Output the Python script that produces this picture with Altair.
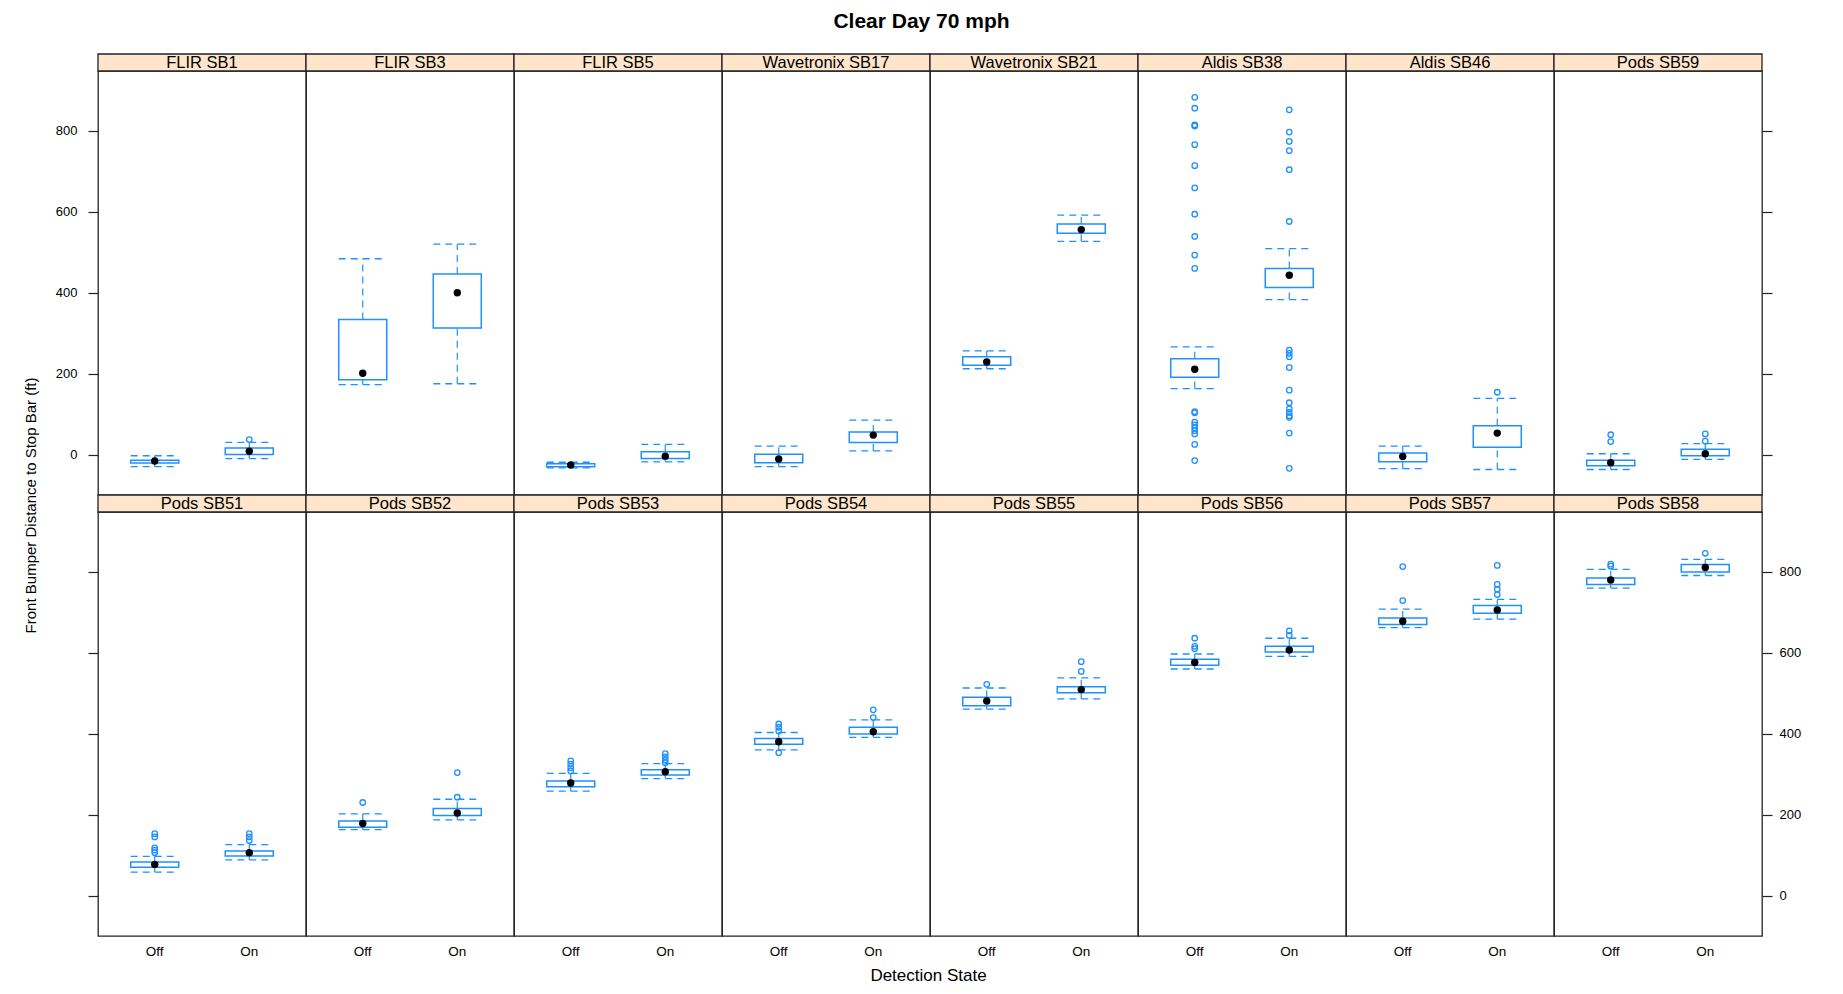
import altair as alt
import pandas as pd

title_text = "Clear Day 70 mph"
x_title = "Detection State"
y_title = "Front Bumper Distance to Stop Bar (ft)"

panels = ["FLIR SB1", "FLIR SB3", "FLIR SB5", "Wavetronix SB17", "Wavetronix SB21",
          "Aldis SB38", "Aldis SB46", "Pods SB59",
          "Pods SB51", "Pods SB52", "Pods SB53", "Pods SB54", "Pods SB55",
          "Pods SB56", "Pods SB57", "Pods SB58"]
states = ["Off", "On"]
y_ticks = [0, 200, 400, 600, 800]

# each entry: [Off, On]
lower_whisker = [[-30, -10], [173, 175], [-33, -18], [-30, 9], [212, 527], [163, 383], [-35, -37], [-37, -12],
                 [58, 88], [163, 187], [258, 289], [360, 391], [461, 486], [560, 591], [662, 683], [760, 791]]
q1 = [[-21, 0], [185, 313], [-30, -10], [-20, 30], [221, 547], [191, 413], [-18, 18], [-28, -3],
      [70, 98], [169, 198], [269, 298], [374, 399], [469, 501], [569, 602], [670, 698], [769, 800]]
median = [[-16, 8], [201, 400], [-26, -4], [-11, 48], [229, 556], [211, 443], [-5, 53], [-20, 2],
          [77, 106], [178, 204], [278, 306], [380, 405], [481, 509], [576, 607], [678, 706], [780, 811]]
q3 = [[-14, 16], [334, 446], [-23, 7], [1, 56], [242, 570], [237, 460], [4, 71], [-14, 13],
      [83, 110], [184, 215], [283, 311], [388, 416], [490, 516], [584, 616], [686, 717], [785, 818]]
upper_whisker = [[-3, 30], [484, 520], [-19, 25], [21, 85], [256, 592], [266, 509], [21, 139], [2, 27],
                 [97, 126], [202, 238], [302, 326], [403, 434], [513, 538], [597, 636], [708, 732], [806, 831]]
outliers = [
    [[], [37]],
    [[], []],
    [[], []],
    [[], []],
    [[], []],
    [[883, 856, 815, 812, 766, 714, 659, 594, 539, 493, 460, 106, 103, 80, 73, 66, 59, 51, 25, -15],
     [852, 797, 774, 751, 704, 576, 258, 250, 242, 215, 159, 128, 113, 104, 96, 92, 53, -34]],
    [[], [154]],
    [[49, 32], [51, 33]],
    [[153, 145, 118, 112, 106], [153, 145, 136]],
    [[230], [304, 243]],
    [[333, 325, 316, 308], [351, 343, 335, 328]],
    [[424, 416, 407, 353], [459, 440]],
    [[522], [578, 554]],
    [[636, 616, 610], [654, 643]],
    [[813, 729], [816, 769, 757, 744]],
    [[819, 814], [846]],
]

stat_rows = []
out_rows = []
for i, p in enumerate(panels):
    for j, s in enumerate(states):
        stat_rows.append(dict(panel=p, state=s, lo=lower_whisker[i][j], q1=q1[i][j],
                              med=median[i][j], q3=q3[i][j], hi=upper_whisker[i][j]))
        for v in outliers[i][j]:
            out_rows.append(dict(panel=p, state=s, value=v))
stats = pd.DataFrame(stat_rows)
outs = pd.DataFrame(out_rows)
strips = pd.DataFrame({"panel": panels})

BLUE = "#1E90FF"
BORDER = "#222222"
W = 208
H = 424
STRIP = 17
BOXW = 48
FONT = "Liberation Sans"
ydom = [-100, 948]


def panel_chart(r, c):
    p = panels[r * 8 + c]
    xscale = alt.Scale(domain=states, type="band", paddingInner=0.492, paddingOuter=0.346)
    if r == 1:
        xaxis = alt.Axis(title=None, ticks=False, domain=False, labelAngle=0, labelPadding=8,
                         labelFontSize=13.5, grid=False, labelColor="black")
    else:
        xaxis = None
    yscale = alt.Scale(domain=ydom, nice=False, zero=False)
    if c == 0:
        yaxis = alt.Axis(orient="left", values=y_ticks, tickSize=10, labelPadding=11, grid=False,
                         domain=False, labels=(r == 0), title=None, labelFontSize=13,
                         tickColor=BORDER, tickWidth=1.2, labelColor="black")
    elif c == 7:
        yaxis = alt.Axis(orient="right", values=y_ticks, tickSize=10, labelPadding=7, grid=False,
                         domain=False, labels=(r == 1), title=None, labelFontSize=13,
                         tickColor=BORDER, tickWidth=1.2, labelColor="black")
    else:
        yaxis = None

    X = alt.X("state:N", scale=xscale, axis=xaxis, sort=states)
    base = alt.Chart(stats).transform_filter(alt.datum.panel == p)

    wl = base.mark_rule(color=BLUE, strokeDash=[7, 5], strokeWidth=1.2).encode(
        x=X, y=alt.Y("lo:Q", scale=yscale, axis=yaxis), y2="q1:Q")
    wh = base.mark_rule(color=BLUE, strokeDash=[7, 5], strokeWidth=1.2).encode(
        x=X, y=alt.Y("q3:Q", scale=yscale, axis=yaxis), y2="hi:Q")
    cap_shape = "M-1,0L1,0"
    cl = base.mark_point(shape=cap_shape, size=BOXW * BOXW, color=BLUE, filled=False,
                         strokeDash=[7, 5], strokeWidth=1.3, opacity=1).encode(
        x=X, y=alt.Y("lo:Q", scale=yscale, axis=yaxis))
    ch = base.mark_point(shape=cap_shape, size=BOXW * BOXW, color=BLUE, filled=False,
                         strokeDash=[7, 5], strokeWidth=1.3, opacity=1).encode(
        x=X, y=alt.Y("hi:Q", scale=yscale, axis=yaxis))
    box = base.mark_bar(fill="white", stroke=BLUE, strokeWidth=1.5).encode(
        x=X, y=alt.Y("q1:Q", scale=yscale, axis=yaxis), y2="q3:Q")
    med = base.mark_point(filled=True, color="black", size=55, opacity=1).encode(
        x=X, y=alt.Y("med:Q", scale=yscale, axis=yaxis))
    layers = [wl, wh, cl, ch, box, med]
    if ((outs["panel"] == p).any()):
        ol = alt.Chart(outs).transform_filter(alt.datum.panel == p).mark_point(
            filled=False, color=BLUE, size=30, strokeWidth=1.3, opacity=1).encode(
            x=X, y=alt.Y("value:Q", scale=yscale, axis=yaxis))
        layers.append(ol)
    sc = alt.Chart(strips).transform_filter(alt.datum.panel == p)
    srect = sc.mark_rect(fill="#ffe5cc", stroke=BORDER, strokeWidth=1.3).encode(
        x=alt.value(0), x2=alt.value(W), y=alt.value(-STRIP), y2=alt.value(0))
    stext = sc.mark_text(fontSize=16.5, font=FONT, color="black", baseline="middle", align="center").encode(
        text="panel:N", x=alt.value(W / 2), y=alt.value(-STRIP / 2 + 0.5))
    layers += [srect, stext]
    return alt.layer(*layers).properties(width=W, height=H)


cells = [panel_chart(r, c) for r in range(2) for c in range(8)]
grid = alt.concat(*cells, columns=8, spacing=alt.RowColnumber(row=STRIP, column=0),
                  bounds="flush").properties(
    title=alt.TitleParams(y_title, orient="left", fontSize=15, fontWeight="normal", font=FONT,
                          color="black", offset=16, anchor="middle"))
mid = alt.vconcat(grid).properties(
    title=alt.TitleParams(x_title, orient="bottom", fontSize=17, fontWeight="normal", font=FONT,
                          color="black", offset=10, anchor="middle", dx=16))
chart = alt.vconcat(mid).properties(
    title=alt.TitleParams(title_text, fontSize=21, fontWeight="bold", font=FONT, color="black",
                          anchor="middle", offset=21, dx=9),
    padding={"left": 23, "top": 10, "right": 5, "bottom": 5},
    background="white",
).configure_view(stroke=BORDER, strokeWidth=1.3).configure_axis(
    labelFont=FONT, titleFont=FONT)

chart.save("out.html", embed_options={"renderer": "svg", "actions": False})
